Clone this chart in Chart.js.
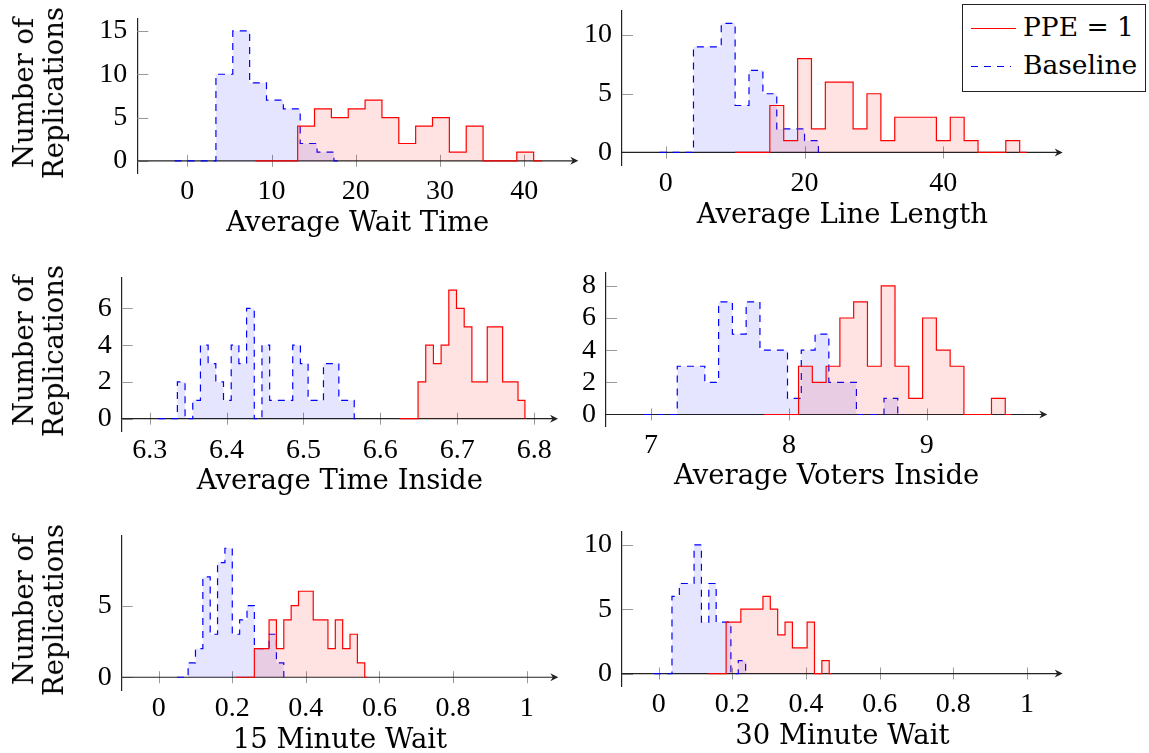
<!DOCTYPE html>
<html>
<head>
<meta charset="utf-8">
<script src="https://cdn.jsdelivr.net/npm/chart.js@4.4.1/dist/chart.umd.min.js"></script>
<style>
  body { margin: 0; background: #fff; width: 1149px; height: 753px; position: relative; overflow: hidden; }
  canvas { position: absolute; }
  .title, .ytitle, .legtext { position: absolute; font-family: 'DejaVu Serif', serif; font-size: 27.5px; color: #000; white-space: nowrap; }
  .title { line-height: 26px; transform: translate(-50%, -50%); }
  .ytitle { line-height: 30px; text-align: center; transform: translate(-50%, -50%) rotate(-90deg); }
  .legtext { font-size: 26.5px; line-height: 26px; transform: translateY(-50%); }
  #legbox { position: absolute; left: 962px; top: 4px; width: 182px; height: 86px; border: 1.2px solid #222; background: #fff; }
  .legline { position: absolute; height: 1.3px; }
</style>
</head>
<body>
<script>
// Average Wait Time
const waitPpeX = [8.1, 13.1, 15.1, 17.1, 19.1, 21.1, 23.1, 25.1, 27.1, 29.1, 31.1, 33.1, 35.1, 37.1, 39.1, 41.1, 42.1];
const waitPpeY = [0, 4, 6, 5, 6, 7, 5, 2, 4, 5, 1, 4, 0, 0, 1, 0, 0];
const waitBaseX = [-1.5, 3.4, 5.4, 7.4, 9.4, 11.4, 13.4, 15.4, 17.4, 18.4];
const waitBaseY = [0, 10, 15, 9, 7, 6, 2, 1, 0, 0];
const waitTicksX = [0, 10, 20, 30, 40];
const waitTicksY = [0, 5, 10, 15];

// Average Line Length
const linePpeX = [10, 15, 17, 19, 21, 23, 25, 27, 29, 31, 33, 35, 37, 39, 41, 43, 45, 47, 49, 51, 52];
const linePpeY = [0, 4, 1, 8, 2, 6, 6, 2, 5, 1, 3, 3, 3, 1, 3, 1, 0, 0, 1, 0, 0];
const lineBaseX = [-0.9, 4, 6, 8, 10, 12, 14, 16, 18, 20, 22, 23];
const lineBaseY = [0, 9, 9, 11, 4, 7, 5, 2, 2, 1, 0, 0];
const lineTicksX = [0, 20, 40];
const lineTicksY = [0, 5, 10];

// Average Time Inside
const insidePpeX = [6.625, 6.649, 6.659, 6.669, 6.679, 6.689, 6.699, 6.709, 6.719, 6.729, 6.739, 6.749, 6.759, 6.769, 6.779, 6.788];
const insidePpeY = [0, 2, 4, 3, 4, 7, 6, 5, 2, 2, 5, 5, 2, 2, 1, 0];
const insideBaseX = [6.311, 6.336, 6.346, 6.356, 6.366, 6.376, 6.386, 6.396, 6.406, 6.416, 6.426, 6.436, 6.446,
  6.456, 6.466, 6.476, 6.486, 6.496, 6.506, 6.516, 6.526, 6.536, 6.546, 6.556, 6.566, 6.571];
const insideBaseY = [0, 2, 0, 1, 4, 3, 2, 1, 4, 3, 6, 0, 4, 1, 1, 1, 4, 3, 1, 1, 3, 3, 1, 1, 0, 0];
const insideTicksX = [6.3, 6.4, 6.5, 6.6, 6.7, 6.8];
const insideTicksY = [0, 2, 4, 6];

// Average Voters Inside
const votersPpeX = [7.82, 8.07, 8.17, 8.27, 8.37, 8.47, 8.57, 8.67, 8.77, 8.87, 8.97, 9.07, 9.17, 9.27, 9.37, 9.47, 9.57, 9.61];
const votersPpeY = [0, 3, 2, 3, 6, 7, 3, 8, 3, 1, 6, 4, 3, 0, 0, 1, 0, 0];
const votersBaseX = [6.95, 7.19, 7.29, 7.39, 7.49, 7.59, 7.69, 7.79, 7.89, 7.99, 8.09, 8.19, 8.29, 8.39, 8.49, 8.59, 8.69, 8.79, 8.83];
const votersBaseY = [0, 3, 3, 2, 7, 5, 7, 4, 4, 1, 4, 5, 2, 2, 0, 0, 1, 0, 0];
const votersTicksX = [7, 8, 9];
const votersTicksY = [0, 2, 4, 6, 8];

// 15 Minute Wait
const min15PpeX = [0.21, 0.26, 0.28, 0.30, 0.32, 0.34, 0.36, 0.38, 0.40, 0.42, 0.44, 0.46, 0.48, 0.50, 0.52, 0.54, 0.56, 0.567];
const min15PpeY = [0, 2, 2, 4, 2, 4, 5, 6, 6, 4, 4, 2, 4, 2, 3, 1, 0, 0];
const min15BaseX = [0.05, 0.08, 0.10, 0.12, 0.14, 0.16, 0.18, 0.20, 0.22, 0.24, 0.26, 0.28, 0.30, 0.32, 0.34];
const min15BaseY = [0, 1, 2, 7, 3, 8, 9, 3, 4, 5, 2, 2, 3, 1, 0];
const min15TicksX = [0, 0.2, 0.4, 0.6, 0.8, 1];
const min15TicksY = [0, 5];

// 30 Minute Wait
const min30PpeX = [0.135, 0.183, 0.203, 0.223, 0.243, 0.263, 0.283, 0.303, 0.323, 0.343, 0.363, 0.383, 0.403, 0.423, 0.443, 0.463, 0.47];
const min30PpeY = [0, 4, 4, 5, 5, 5, 6, 5, 3, 4, 2, 2, 4, 0, 1, 0, 0];
const min30BaseX = [-0.013, 0.036, 0.056, 0.076, 0.096, 0.116, 0.136, 0.156, 0.176, 0.196, 0.216, 0.236, 0.24];
const min30BaseY = [0, 6, 7, 7, 10, 4, 7, 4, 4, 0, 1, 0, 0];
const min30TicksX = [0, 0.2, 0.4, 0.6, 0.8, 1];
const min30TicksY = [0, 5, 10];

const seriesNames = ['PPE = 1', 'Baseline'];
const yTitle = ['Number of', 'Replications'];

// box = plot area in page pixels [left, top, right, bottom]
const panels = [
  { title: 'Average Wait Time', box: [137.3, 12.7, 578.3, 173.3], xr: [-5.93, 46.4], yr: [-1.44, 16.4],
    tx: waitTicksX, ty: waitTicksY, ppe: [waitPpeX, waitPpeY], base: [waitBaseX, waitBaseY], ylab: true },
  { title: 'Average Line Length', box: [622, 4.7, 1062.7, 165], xr: [-6.3, 57.2], yr: [-1.07, 12.07],
    tx: lineTicksX, ty: lineTicksY, ppe: [linePpeX, linePpeY], base: [lineBaseX, lineBaseY] },
  { title: 'Average Time Inside', box: [121.7, 271, 558, 431.7], xr: [6.2636, 6.831], yr: [-0.71, 7.67],
    tx: insideTicksX, ty: insideTicksY, ppe: [insidePpeX, insidePpeY], base: [insideBaseX, insideBaseY], ylab: true },
  { title: 'Average Voters Inside', box: [606, 266, 1047.3, 426.7], xr: [6.673, 9.875], yr: [-0.76, 8.81],
    tx: votersTicksX, ty: votersTicksY, ppe: [votersPpeX, votersPpeY], base: [votersBaseX, votersBaseY] },
  { title: '15 Minute Wait', box: [121.7, 529.3, 558.3, 690], xr: [-0.1005, 1.086], yr: [-0.89, 9.87],
    tx: min15TicksX, ty: min15TicksY, ppe: [min15PpeX, min15PpeY], base: [min15BaseX, min15BaseY], ylab: true },
  { title: '30 Minute Wait', box: [622, 525, 1062.7, 686], xr: [-0.0997, 1.097], yr: [-0.97, 11.02],
    tx: min30TicksX, ty: min30TicksY, ppe: [min30PpeX, min30PpeY], base: [min30BaseX, min30BaseY] }
];

const tickFont = { family: 'Liberation Serif', size: 28 };

// x axis through y = 0 with arrow, plus pgfplots style tick marks
const axisDecor = {
  id: 'axisDecor',
  beforeDatasetsDraw(chart) {
    const { ctx, chartArea: a, scales: { x, y } } = chart;
    const y0 = y.getPixelForValue(0);
    ctx.save();
    ctx.strokeStyle = '#999';
    ctx.lineWidth = 1;
    ctx.beginPath();
    x.ticks.forEach(t => {
      const px = Math.round(x.getPixelForValue(t.value)) + 0.5;
      ctx.moveTo(px, y0 - 6);
      ctx.lineTo(px, y0 + 6);
    });
    y.ticks.forEach(t => {
      const py = Math.round(y.getPixelForValue(t.value)) + 0.5;
      ctx.moveTo(a.left, py);
      ctx.lineTo(a.left + 11, py);
    });
    ctx.stroke();

    ctx.strokeStyle = '#222';
    ctx.lineWidth = 1.2;
    ctx.beginPath();
    ctx.moveTo(a.left, y0);
    ctx.lineTo(a.right - 4, y0);
    ctx.stroke();

    ctx.fillStyle = '#222';
    ctx.beginPath();
    ctx.moveTo(a.right, y0);
    ctx.lineTo(a.right - 8, y0 - 4);
    ctx.lineTo(a.right - 5.5, y0);
    ctx.lineTo(a.right - 8, y0 + 4);
    ctx.closePath();
    ctx.fill();
    ctx.restore();
  }
};

function histSet(label, xs, ys, color, fill, dash) {
  return {
    label,
    data: xs.map((x, i) => ({ x, y: ys[i] })),
    borderColor: color,
    backgroundColor: fill,
    borderWidth: 1.2,
    borderDash: dash,
    stepped: true,
    fill: 'origin',
    pointRadius: 0,
    tension: 0
  };
}

function makePanel(p) {
  const [l, t, r, b] = p.box;
  const yw = 70;
  const cx = Math.floor(l) - yw, cy = Math.floor(t) - 20;
  const w = Math.ceil(r) + 20 - cx, h = Math.ceil(b) + 40 - cy;
  const canvas = document.createElement('canvas');
  canvas.width = w;
  canvas.height = h;
  canvas.style.left = cx + 'px';
  canvas.style.top = cy + 'px';
  canvas.style.width = w + 'px';
  canvas.style.height = h + 'px';
  document.body.appendChild(canvas);

  new Chart(canvas, {
    type: 'line',
    data: {
      datasets: [
        histSet(seriesNames[0], p.ppe[0], p.ppe[1], '#ff0000', 'rgba(255,0,0,0.11)', []),
        histSet(seriesNames[1], p.base[0], p.base[1], '#0000ff', 'rgba(0,0,255,0.1)', [7, 6])
      ]
    },
    options: {
      responsive: false,
      animation: false,
      devicePixelRatio: 1,
      layout: { padding: { left: l - cx - yw, top: t - cy, right: cx + w - r, bottom: 0 } },
      plugins: { legend: { display: false }, tooltip: { enabled: false } },
      scales: {
        x: {
          type: 'linear',
          min: p.xr[0],
          max: p.xr[1],
          grid: { display: false, drawTicks: false },
          border: { display: false },
          afterBuildTicks: s => { s.ticks = p.tx.map(v => ({ value: v })); },
          afterFit: s => { s.height = cy + h - b; },
          ticks: { font: tickFont, color: '#000', padding: 2, maxRotation: 0, autoSkip: false, callback: v => String(v) }
        },
        y: {
          type: 'linear',
          min: p.yr[0],
          max: p.yr[1],
          grid: { display: false, drawTicks: false },
          border: { display: true, color: '#222', width: 1.2 },
          afterBuildTicks: s => { s.ticks = p.ty.map(v => ({ value: v })); },
          afterFit: s => { s.width = yw; },
          ticks: { font: tickFont, color: '#000', padding: 10, autoSkip: false, callback: v => String(v) }
        }
      }
    },
    plugins: [axisDecor]
  });

  const tt = document.createElement('div');
  tt.className = 'title';
  tt.textContent = p.title;
  tt.style.left = ((l + r) / 2) + 'px';
  tt.style.top = (b + 47.5) + 'px';
  document.body.appendChild(tt);

  if (p.ylab) {
    const yt = document.createElement('div');
    yt.className = 'ytitle';
    yt.innerHTML = yTitle.join('<br>');
    yt.style.left = '38px';
    yt.style.top = ((t + b) / 2) + 'px';
    document.body.appendChild(yt);
  }
}

panels.forEach(makePanel);

// legend box like pgfplots, top right
const legBox = document.createElement('div');
legBox.id = 'legbox';
document.body.appendChild(legBox);
[
  { y: 27.5, text: seriesNames[0], bg: '#ff0000', len: 45 },
  { y: 66, text: seriesNames[1], bg: 'repeating-linear-gradient(to right, #0000ff 0 7px, transparent 7px 13px)', len: 40 }
].forEach(e => {
  const ln = document.createElement('div');
  ln.className = 'legline';
  ln.style.left = '971px';
  ln.style.top = e.y + 'px';
  ln.style.width = e.len + 'px';
  ln.style.background = e.bg;
  document.body.appendChild(ln);
  const tx = document.createElement('div');
  tx.className = 'legtext';
  tx.textContent = e.text;
  tx.style.left = '1023px';
  tx.style.top = (e.y - 1) + 'px';
  document.body.appendChild(tx);
});
</script>
</body>
</html>
